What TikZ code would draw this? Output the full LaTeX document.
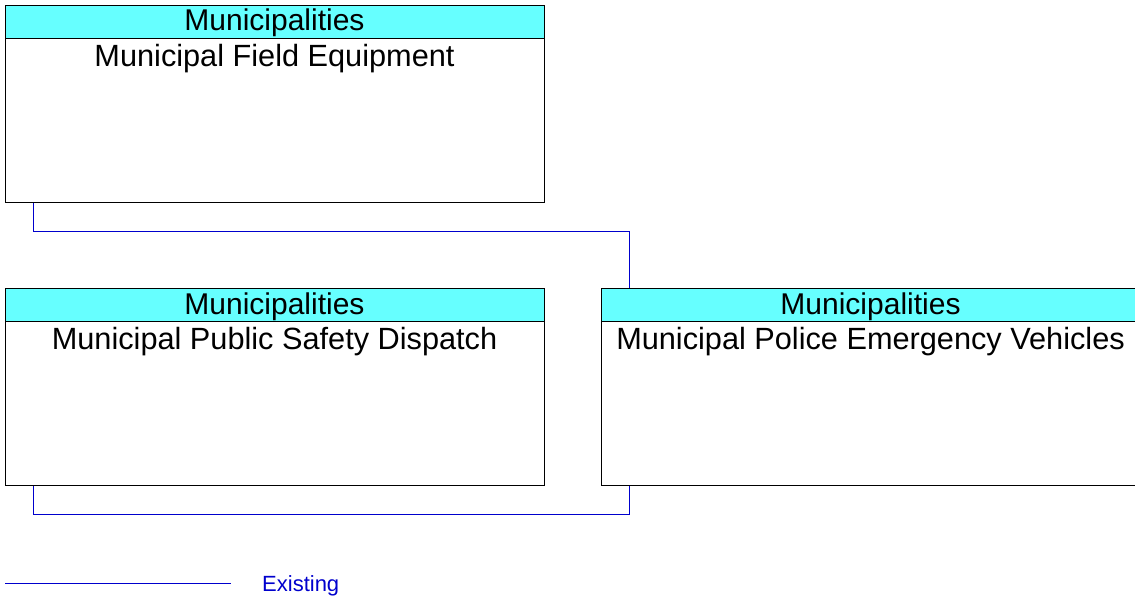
\documentclass[tikz,border=0pt]{standalone}
\usepackage{fontspec}
\setmainfont{Liberation Sans}
\definecolor{hdrcyan}{RGB}{102,255,255}
\definecolor{linkblue}{RGB}{0,0,205}
\begin{document}
\begin{tikzpicture}[x=1pt,y=-1pt,
  box/.style={draw=black,line width=1pt,fill=white,anchor=north west,inner sep=0pt,minimum width=539pt,minimum height=197pt},
  hdr/.style={draw=black,line width=1pt,fill=hdrcyan,anchor=north,inner sep=0pt,minimum width=539pt,minimum height=33pt},
  htxt/.style={anchor=base,inner sep=0pt,font=\fontsize{30}{34}\selectfont},
  ttl/.style={anchor=base,inner sep=0pt,font=\fontsize{30.7}{35}\selectfont},
  link/.style={draw=linkblue,line width=1pt},
]
\useasboundingbox (0,0) rectangle (1135,599);
% boxes
\node[box] (b1) at (5,5) {};
\node[hdr] (h1) at (b1.north) {};
\node[htxt] (h1t) at (274.5,31) {Municipalities};
\node[ttl] (b1t) at (274.5,66.5) {Municipal Field Equipment};

\node[box] (b2) at (5,288) {};
\node[hdr] (h2) at (b2.north) {};
\node[htxt] (h2t) at (274.5,314) {Municipalities};
\node[ttl] (b2t) at (274.5,349.5) {Municipal Public Safety Dispatch};

\node[box] (b3) at (601,288) {};
\node[hdr] (h3) at (b3.north) {};
\node[htxt] (h3t) at (870.5,314) {Municipalities};
\node[ttl] (b3t) at (870.5,349.5) {Municipal Police Emergency Vehicles};

% connectors
\coordinate (c1a) at ([xshift=-241.5pt]b1.south);
\coordinate (c1b) at ([xshift=-241.5pt]b3.north);
\draw[link] (c1a) -- ++(0,28) -| (c1b);
\coordinate (c2a) at ([xshift=-241.5pt]b2.south);
\coordinate (c2b) at ([xshift=-241.5pt]b3.south);
\draw[link] (c2a) -- ++(0,28) -| (c2b);

% legend
\coordinate (l1) at (5,583);
\coordinate (l2) at (231,583);
\draw[link] (l1) -- (l2);
\node[anchor=base west,inner sep=0pt,text=linkblue,font=\fontsize{22}{26}\selectfont] (leg) at (262,591) {Existing};
\end{tikzpicture}
\end{document}
